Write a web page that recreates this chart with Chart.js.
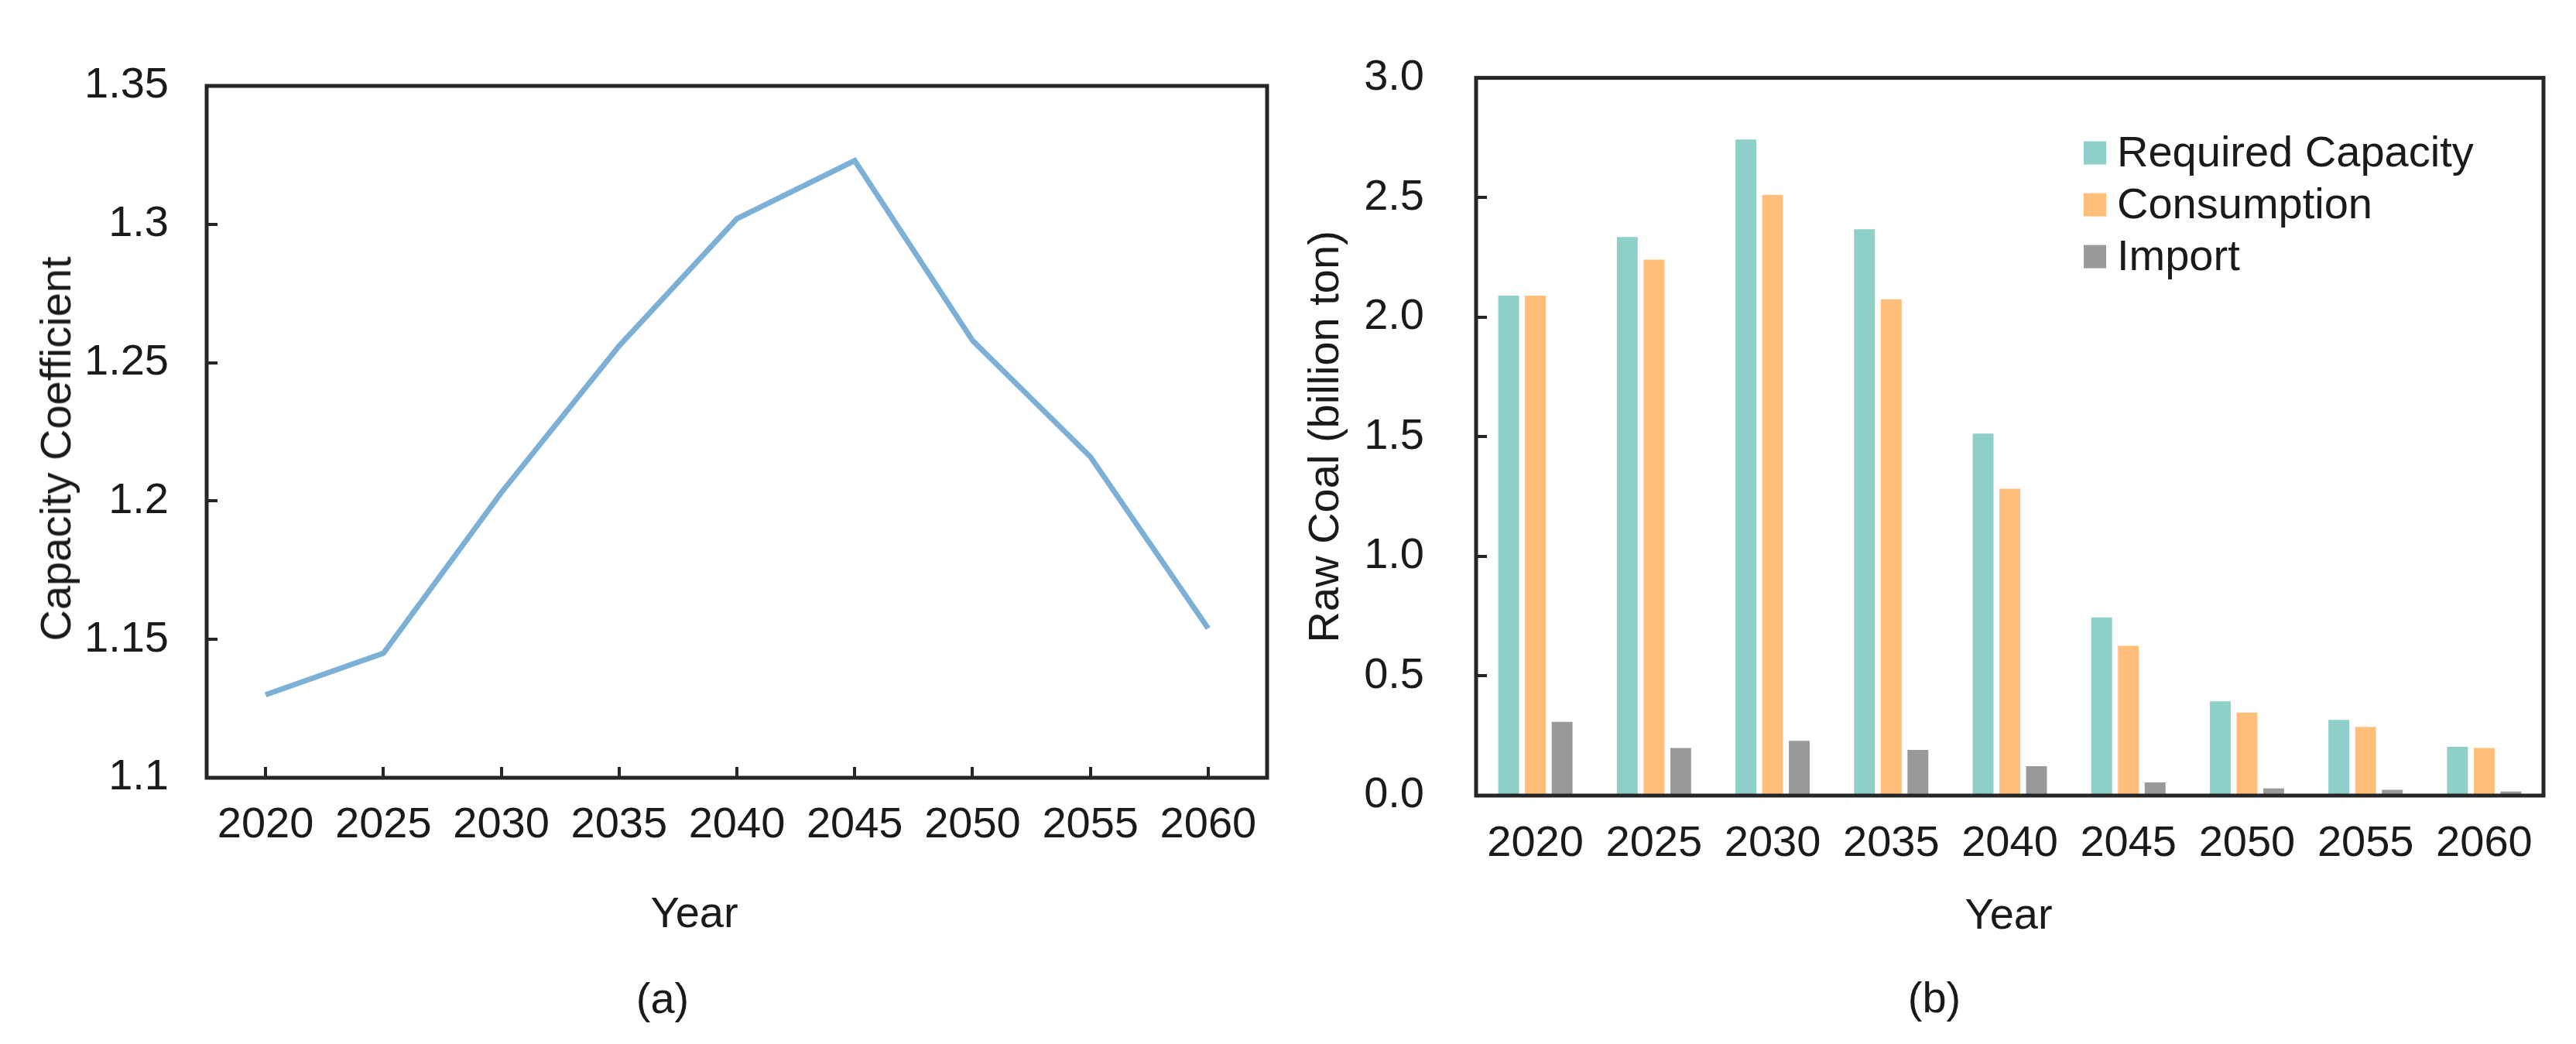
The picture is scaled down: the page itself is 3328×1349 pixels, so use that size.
<!DOCTYPE html>
<html><head><meta charset="utf-8">
<script src="https://cdn.jsdelivr.net/npm/chart.js@4.4.0/dist/chart.umd.min.js"></script>
<style>
html,body{margin:0;padding:0;background:#fff;}
#wrap{position:relative;width:3328px;height:1349px;overflow:hidden;font-family:'Liberation Sans',Arial,sans-serif;color:#1a1a1a;background:#fff;}
.cv{position:absolute;top:0;width:1664px;height:1349px;}
.lbl{position:absolute;font-size:56px;line-height:1;transform:translate(-50%,-50%);white-space:nowrap;}
.rot{transform:translate(-50%,-50%) rotate(-90deg);}
</style></head>
<body><div id="wrap">
<div class="cv" style="left:0"><canvas id="ca"></canvas></div>
<div class="cv" style="left:1664px"><canvas id="cb"></canvas></div>
<div class="lbl rot" style="left:72px;top:580px">Capacity Coefficient</div>
<div class="lbl" style="left:897px;top:1179px">Year</div>
<div class="lbl" style="left:856px;top:1290px">(a)</div>
<div class="lbl" style="left:2595px;top:1181px">Year</div>
<div class="lbl" style="left:2499px;top:1289px">(b)</div>
</div>
<script>
// ---- data ----
const years = ['2020','2025','2030','2035','2040','2045','2050','2055','2060'];
const capacityCoefficient = [1.130, 1.145, 1.203, 1.256, 1.302, 1.323, 1.258, 1.216, 1.154];
const requiredCapacity = [2.09, 2.335, 2.742, 2.367, 1.513, 0.745, 0.394, 0.316, 0.204];
const consumption      = [2.09, 2.24, 2.511, 2.074, 1.283, 0.626, 0.347, 0.287, 0.199];
const importCoal       = [0.308, 0.199, 0.229, 0.191, 0.123, 0.055, 0.03, 0.024, 0.017];
const leftYTicks  = [1.1, 1.15, 1.2, 1.25, 1.3, 1.35];
const rightYTicks = [0, 0.5, 1.0, 1.5, 2.0, 2.5, 3.0];
const seriesNames = ['Required Capacity', 'Consumption', 'Import'];

Chart.defaults.font.family = "'Liberation Sans', Arial, sans-serif";
Chart.defaults.color = '#1a1a1a';
const F = {size:56, family:"'Liberation Sans', Arial, sans-serif"};
const INK = '#1a1a1a';

const framePlugin = {
  id:'frame',
  afterDraw(chart, args, opts){
    const {ctx, chartArea:a} = chart;
    ctx.save();
    ctx.strokeStyle = '#262626';
    ctx.lineWidth = 4;
    const L = 14;
    (opts.tickAxes||[]).forEach(id=>{
      const s = chart.scales[id];
      s.ticks.forEach((t,i)=>{
        const p = Math.round(s.getPixelForTick(i));
        ctx.beginPath();
        if (s.isHorizontal()) { ctx.moveTo(p, a.bottom); ctx.lineTo(p, a.bottom - L); }
        else { ctx.moveTo(a.left, p); ctx.lineTo(a.left + L, p); }
        ctx.stroke();
      });
    });
    ctx.lineWidth = 5;
    ctx.strokeRect(a.left, a.top, a.right - a.left, a.bottom - a.top);
    ctx.restore();
  }
};

const legendPlugin = {
  id:'innerLegend',
  afterDraw(chart, args, opts){
    if (!opts.show) return;
    const {ctx, chartArea:a} = chart;
    ctx.save();
    const x = a.left + 785;
    chart.data.datasets.forEach((d,i)=>{
      const cy = a.top + 97 + i*67;
      ctx.fillStyle = d.backgroundColor;
      ctx.fillRect(x, cy - 15, 29, 30);
      ctx.fillStyle = INK;
      ctx.font = "56px 'Liberation Sans', Arial, sans-serif";
      ctx.textBaseline = 'middle';
      ctx.textAlign = 'left';
      ctx.fillText(d.label, x + 43, cy + 2);
    });
    ctx.restore();
  }
};

new Chart(document.getElementById('ca'), {
  type:'line',
  data:{labels:years, datasets:[{label:'Capacity Coefficient', data:capacityCoefficient,
    borderColor:'#7DB0D6', backgroundColor:'#7DB0D6', borderWidth:7, pointRadius:0, tension:0, fill:false}]},
  options:{
    responsive:true, maintainAspectRatio:false, animation:false, devicePixelRatio:1,
    layout:{padding:{left:0, right:27, top:111, bottom:0}},
    plugins:{legend:{display:false}, tooltip:{enabled:false}, frame:{tickAxes:['x','y']}, innerLegend:{show:false}},
    scales:{
      x:{type:'category', offset:true, grid:{display:false, drawTicks:false}, border:{display:false},
         ticks:{padding:28, color:INK, font:F, maxRotation:0, autoSkip:false},
         afterFit:s=>{s.height = 344;}},
      y:{min:1.1, max:1.35, grid:{display:false, drawTicks:false}, border:{display:false},
         afterBuildTicks:s=>{s.ticks = leftYTicks.map(v=>({value:v}));},
         ticks:{padding:49, color:INK, font:F, callback:v=>String(+v.toFixed(2))},
         title:{display:false},
         afterFit:s=>{s.width = 267;}}
    }
  },
  plugins:[framePlugin, legendPlugin]
});

new Chart(document.getElementById('cb'), {
  type:'bar',
  data:{labels:years, datasets:[
    {label:seriesNames[0], data:requiredCapacity, backgroundColor:'#8ECFC9'},
    {label:seriesNames[1], data:consumption, backgroundColor:'#FFBE7A'},
    {label:seriesNames[2], data:importCoal, backgroundColor:'#999999'}
  ]},
  options:{
    responsive:true, maintainAspectRatio:false, animation:false, devicePixelRatio:1,
    datasets:{bar:{categoryPercentage:0.676, barPercentage:0.78}},
    layout:{padding:{left:0, right:42, top:99, bottom:0}},
    plugins:{legend:{display:false}, tooltip:{enabled:false}, frame:{tickAxes:['y']}, innerLegend:{show:true}},
    scales:{
      x:{type:'category', offset:true, grid:{display:false, drawTicks:false}, border:{display:false},
         ticks:{padding:29, color:INK, font:F, maxRotation:0, autoSkip:false},
         afterFit:s=>{s.height = 321;}},
      y:{min:0, max:3.0, grid:{display:false, drawTicks:false}, border:{display:false},
         afterBuildTicks:s=>{s.ticks = rightYTicks.map(v=>({value:v}));},
         ticks:{padding:67, color:INK, font:F, callback:v=>(+v).toFixed(1)},
         title:{display:true, text:'Raw Coal (billion ton)', color:INK, font:F, padding:{top:16, bottom:0}},
         afterFit:s=>{s.width = 243;}}
    }
  },
  plugins:[framePlugin, legendPlugin]
});
</script>
</body></html>
